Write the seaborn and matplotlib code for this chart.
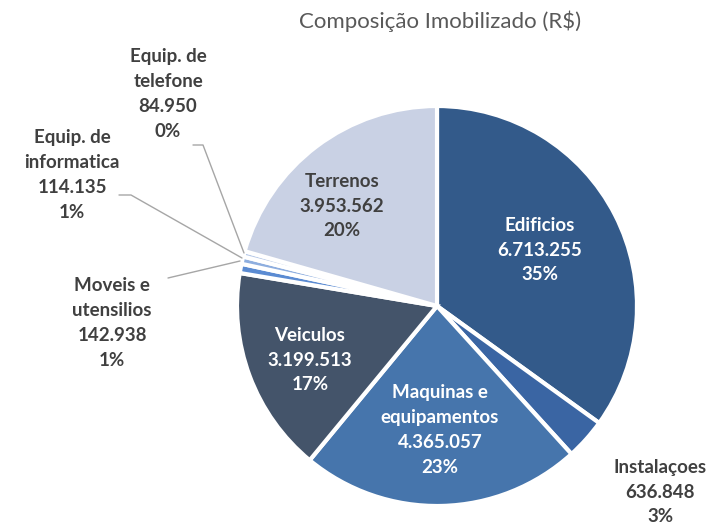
import matplotlib
matplotlib.use("Agg")
import matplotlib.pyplot as plt
import seaborn as sns

# Data
categories = ["Edificios", "Instalaçoes", "Maquinas e\nequipamentos", "Veiculos",
              "Moveis e\nutensilios", "Equip. de\ninformatica", "Equip. de\ntelefone", "Terrenos"]
values = [6713255, 636848, 4365057, 3199513, 142938, 114135, 84950, 3953562]
value_labels = ["6.713.255", "636.848", "4.365.057", "3.199.513", "142.938", "114.135", "84.950", "3.953.562"]
pct_labels = ["35%", "3%", "23%", "17%", "1%", "1%", "0%", "20%"]

colors = ["#335a8a", "#3a65a3", "#4675ac", "#44546a", "#5b8bd2", "#8eaedf", "#b7c9e8", "#c9d1e4"]

sns.set_theme(style="white")
plt.rcParams["font.family"] = ["Lato", "DejaVu Sans"]

fig = plt.figure(figsize=(7.18, 5.32), dpi=100)
ax = fig.add_axes([237 / 718, 26 / 532, 400 / 718, 400 / 532])
ax.pie(values, colors=colors, startangle=90, counterclock=False, radius=1.0,
       wedgeprops=dict(edgecolor="white", linewidth=3))
ax.set_xlim(-1, 1)
ax.set_ylim(-1, 1)
ax.set_aspect("equal")
ax.axis("off")

# label positions (data coords) and text colour
label_pos = [(0.515, 0.28), (1.115, -0.93), (0.015, -0.62), (-0.635, -0.27),
             (-1.625, -0.085), (-1.825, 0.655), (-1.345, 1.06), (-0.475, 0.5)]
label_col = ["white", "#404040", "white", "white", "#404040", "#404040", "#404040", "#404040"]

for cat, v, p, (x, y), c in zip(categories, value_labels, pct_labels, label_pos, label_col):
    ax.text(x, y, f"{cat}\n{v}\n{p}", ha="center", va="center", color=c,
            fontsize=13.5, fontweight="bold", linespacing=1.55, clip_on=False)

# leader lines for the small slices (pixel coords converted to data)
def px(x, y):
    return (x - 437) / 200, (306 - y) / 200

leaders = [
    [(168, 278), (240, 261)],
    [(119, 195), (131, 195), (242, 258)],
    [(193, 145), (203, 145), (244, 253)],
]
for pts in leaders:
    xs, ys = zip(*[px(a, b) for a, b in pts])
    ax.plot(xs, ys, color="#a6a6a6", lw=1, clip_on=False)

fig.text(440 / 718, 1 - 21 / 532, "Composição Imobilizado (R$)", ha="center", va="center",
         fontsize=16, color="#595959")

fig.savefig("out.png", dpi=100)
